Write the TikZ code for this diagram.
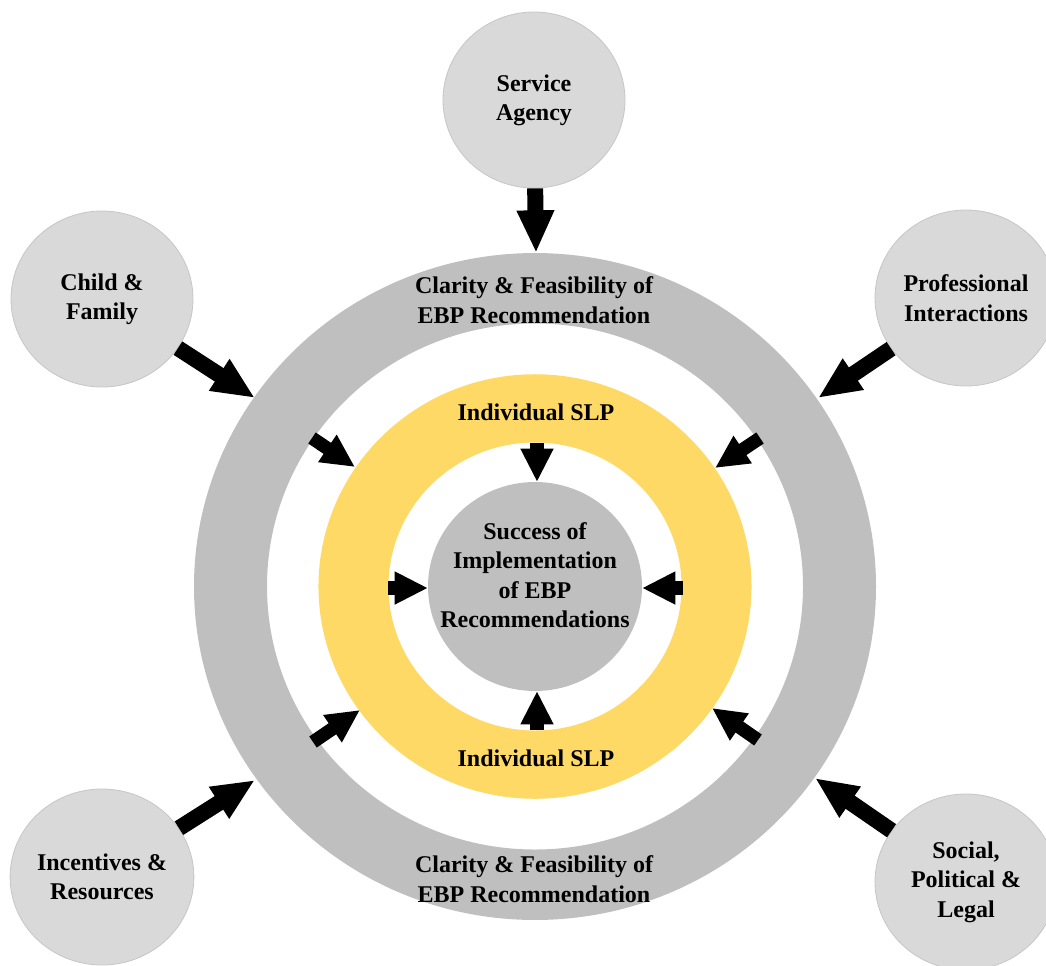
\documentclass[tikz,border=0pt]{standalone}
\usepackage{fontspec}
\setmainfont{Liberation Serif}
\usetikzlibrary{arrows.meta,shapes.geometric}
\definecolor{ringgrey}{HTML}{BFBFBF}
\definecolor{nodegrey}{HTML}{D9D9D9}
\definecolor{nodeedge}{HTML}{C6C6C6}
\definecolor{ringyellow}{HTML}{FFD966}
\begin{document}
\begin{tikzpicture}[x=0.75pt,y=-0.75pt,
  lbl/.style={font=\fontsize{18}{22}\selectfont\bfseries, align=center, text=black},
  factor/.style={ellipse, fill=nodegrey, draw=nodeedge, line width=0.6pt,
    minimum width=136.5pt, minimum height=132pt, inner sep=0pt, lbl},
  bigarrow/.style={line width=12pt, -{Triangle[width=26pt,length=32pt]}},
  smallarrow/.style={line width=10pt, -{Triangle[width=23pt,length=25pt]}},
]
\useasboundingbox (0,0) rectangle (1046,965);
\coordinate (c) at (535,586.5);
% rings
\fill[ringgrey, even odd rule] (c) ellipse [x radius=255.75pt, y radius=250.1pt]
  (c) ellipse [x radius=201pt, y radius=197.25pt];
\fill[ringyellow, even odd rule] (c) ellipse [x radius=162.4pt, y radius=159.2pt]
  (c) ellipse [x radius=109.9pt, y radius=108pt];
\node[ellipse, fill=ringgrey, minimum width=160.5pt, minimum height=156.75pt, inner sep=0pt] (core) at (c) {};
\node[lbl] (coretext) at (535,575) {Success of\\Implementation\\of EBP\\Recommendations};
% ring labels
\node[lbl] (clartop) at (534,300) {Clarity \& Feasibility of\\EBP Recommendation};
\node[lbl] (clarbot) at (534,879) {Clarity \& Feasibility of\\EBP Recommendation};
\node[lbl] (slptop) at (536,412) {Individual SLP};
\node[lbl] (slpbot) at (536,758) {Individual SLP};
% outer factors
\node[factor] (sa) at (534,100) {Service\\Agency};
\node[factor] (cf) at (102,299) {Child \&\\Family};
\node[factor] (pi) at (966,298) {Professional\\Interactions};
\node[factor] (ir) at (102,877) {Incentives \&\\Resources};
\node[factor] (spl) at (966,882) {Social,\\Political \&\\Legal};
% arrow targets on the outer ring
\coordinate (t1) at (536,253);
\coordinate (t2) at (255,398);
\coordinate (t3) at (818,398);
\coordinate (t4) at (255,780);
\coordinate (t5) at (815,778);
\draw[bigarrow] (sa) -- (t1);
\draw[bigarrow] (cf) -- (t2);
\draw[bigarrow] (pi) -- (t3);
\draw[bigarrow] (ir) -- (t4);
\draw[bigarrow] (spl) -- (t5);
% grey ring to yellow ring
\coordinate (g1) at (312,438); \coordinate (y1) at (355,467);
\coordinate (g2) at (760,438); \coordinate (y2) at (715,468);
\coordinate (g3) at (313,742); \coordinate (y3) at (360,710);
\coordinate (g4) at (758,740); \coordinate (y4) at (712,708);
\draw[smallarrow] (g1) -- (y1);
\draw[smallarrow] (g2) -- (y2);
\draw[smallarrow] (g3) -- (y3);
\draw[smallarrow] (g4) -- (y4);
% yellow ring to core
\coordinate (i1) at (537,443); \coordinate (k1) at (537,482);
\coordinate (i2) at (537,730); \coordinate (k2) at (537,691);
\coordinate (i3) at (388,588); \coordinate (k3) at (428,588);
\coordinate (i4) at (683,588); \coordinate (k4) at (642,588);
\draw[smallarrow] (i1) -- (k1);
\draw[smallarrow] (i2) -- (k2);
\draw[smallarrow] (i3) -- (k3);
\draw[smallarrow] (i4) -- (k4);
\end{tikzpicture}
\end{document}
